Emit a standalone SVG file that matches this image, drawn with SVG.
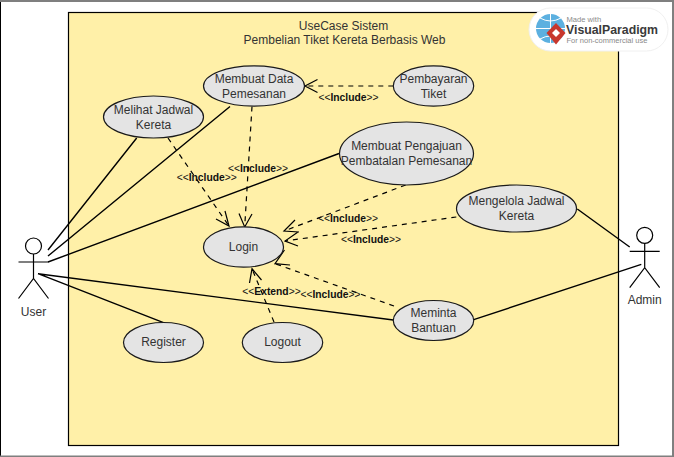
<svg xmlns="http://www.w3.org/2000/svg" width="674" height="457" viewBox="0 0 674 457">
<style>
text{font-family:"Liberation Sans",Arial,sans-serif;text-anchor:middle}
.n{font-size:12px;fill:#333}
.l{font-size:10.300px;fill:#111}
.l tspan{font-weight:bold}
.u{fill:#e4e4e4;stroke:#1a1a1a;stroke-width:1.2}
.a{fill:none;stroke:#000;stroke-width:1.2}
.s{fill:none;stroke:#000;stroke-width:1.4}
.d{fill:none;stroke:#000;stroke-width:1.2;stroke-dasharray:5 5}
.h{fill:none;stroke:#000;stroke-width:1.2}
</style>
<rect width="674" height="457" fill="#fff"/>
<rect x="0.5" y="0" width="672.500" height="456.500" fill="none" stroke="#000"/>
<rect width="674" height="2" fill="#7f7f7f"/>
<rect y="455.500" width="674" height="1.500" fill="#7f7f7f"/>
<g id="system">
<rect x="68.500" y="12.500" width="550" height="433" fill="#fff0a8" stroke="#000" stroke-width="1.200"/>
<text class="n" x="343.500" y="30">UseCase Sistem</text>
<text class="n" x="344.500" y="44">Pembelian Tiket Kereta Berbasis Web</text>
</g>
<g id="connectors">
<path class="s" d="M136.700 138L48 250M230 106.500L48 256M339 153.500L48 262M163.500 322.700L38 273.700M393.300 320L38 273.700M577.300 209L629.700 247M473.700 319.700L641.300 264.300"/>
<path class="d" d="M393.300 86H305M168 138L229 226M252 106.500L244.700 227M405.700 185L284 231M456.300 217L285 241M394 306L275 263.700M274 322L252 268.700"/>
<path class="h" d="M317.500 79.500L305 86L317.500 92.500M225 211L229 226L216 219M252 214L244.700 227L239 213.500M295 220L284 231L299 232M298 232L285 241L298 246M284.500 250L275 263.700L290 265M261.500 280L252 268.700L249.500 283"/>
</g>
<g id="uc-melihat"><ellipse class="u" cx="153.500" cy="117" rx="50" ry="21"/><text class="n" x="153.500" y="113.500">Melihat Jadwal</text><text class="n" x="153.500" y="129">Kereta</text></g>
<g id="uc-data"><ellipse class="u" cx="254" cy="86" rx="50.500" ry="20.200"/><text class="n" x="254" y="83">Membuat Data</text><text class="n" x="254" y="98">Pemesanan</text></g>
<g id="uc-bayar"><ellipse class="u" cx="433.500" cy="86" rx="40.200" ry="20.200"/><text class="n" x="433.500" y="83">Pembayaran</text><text class="n" x="433.500" y="98">Tiket</text></g>
<g id="uc-batal"><ellipse class="u" cx="406.500" cy="153.500" rx="67" ry="31.500"/><text class="n" x="406.500" y="150">Membuat Pengajuan</text><text class="n" x="406.500" y="165">Pembatalan Pemesanan</text></g>
<g id="uc-jadwal"><ellipse class="u" cx="516.500" cy="208.500" rx="60" ry="23.500"/><text class="n" x="516.500" y="205">Mengelola Jadwal</text><text class="n" x="516.500" y="220">Kereta</text></g>
<g id="uc-login"><ellipse class="u" cx="243.500" cy="247" rx="40" ry="20.200"/><text class="n" x="243.500" y="251">Login</text></g>
<g id="uc-register"><ellipse class="u" cx="163.500" cy="342.500" rx="40" ry="20"/><text class="n" x="163.500" y="346">Register</text></g>
<g id="uc-logout"><ellipse class="u" cx="282.500" cy="342.500" rx="40.200" ry="20"/><text class="n" x="282.500" y="346">Logout</text></g>
<g id="uc-bantuan"><ellipse class="u" cx="433.500" cy="320.500" rx="40.200" ry="20"/><text class="n" x="433.500" y="317">Meminta</text><text class="n" x="433.500" y="332">Bantuan</text></g>
<g id="actor-user"><circle class="a" cx="33.500" cy="246" r="8"/><path class="a" d="M33.500 254V278.500M18.500 262H48.500M18.500 298.500L33.500 278.500L48.500 298.500"/><text class="n" x="33.500" y="316">User</text></g>
<g id="actor-admin"><circle class="a" cx="644.700" cy="235.300" r="8"/><path class="a" d="M644.700 243.300V267.700M629.700 251.300H659.700M629.700 287.700L644.700 267.700L659.700 287.700"/><text class="n" x="644.700" y="304">Admin</text></g>
<g id="labels">
<text class="l" x="206.700" y="181">&lt;&lt;<tspan>Include</tspan>&gt;&gt;</text>
<text class="l" x="258" y="172">&lt;&lt;<tspan>Include</tspan>&gt;&gt;</text>
<text class="l" x="348.500" y="101">&lt;&lt;<tspan>Include</tspan>&gt;&gt;</text>
<text class="l" x="348" y="222">&lt;&lt;<tspan>Include</tspan>&gt;&gt;</text>
<text class="l" x="371" y="243">&lt;&lt;<tspan>Include</tspan>&gt;&gt;</text>
<text class="l" x="271.500" y="295">&lt;&lt;<tspan>Extend</tspan>&gt;&gt;</text>
<text class="l" x="330.500" y="298">&lt;&lt;<tspan>Include</tspan>&gt;&gt;</text>
</g>
<g id="watermark">
<rect x="529" y="8" width="139" height="43" rx="21.500" fill="#fff" stroke="#f0f0f0" stroke-width="1"/>
<circle cx="550.500" cy="28.500" r="14.500" fill="#5cb0e0"/>
<path d="M536 28.500H565M550.500 14V43M540 18Q550.500 24 561 18M540 39Q550.500 33 561 39" fill="none" stroke="#fff" stroke-width="1"/>
<path d="M556 23L565.500 33L556 44.500L546.500 33Z" fill="#c8372d"/>
<path d="M556 29L560 33L556 37L552 33Z" fill="#fff"/>
<text x="566.500" y="22" style="text-anchor:start;font-size:7.600px;fill:#8a8a8a">Made with</text>
<text x="566" y="34" style="text-anchor:start;font-size:12.300px;font-weight:bold;fill:#3a3a3a">VisualParadigm</text>
<text x="566.500" y="42.500" style="text-anchor:start;font-size:7.500px;fill:#8a8a8a">For non-commercial use</text>
</g>
</svg>
